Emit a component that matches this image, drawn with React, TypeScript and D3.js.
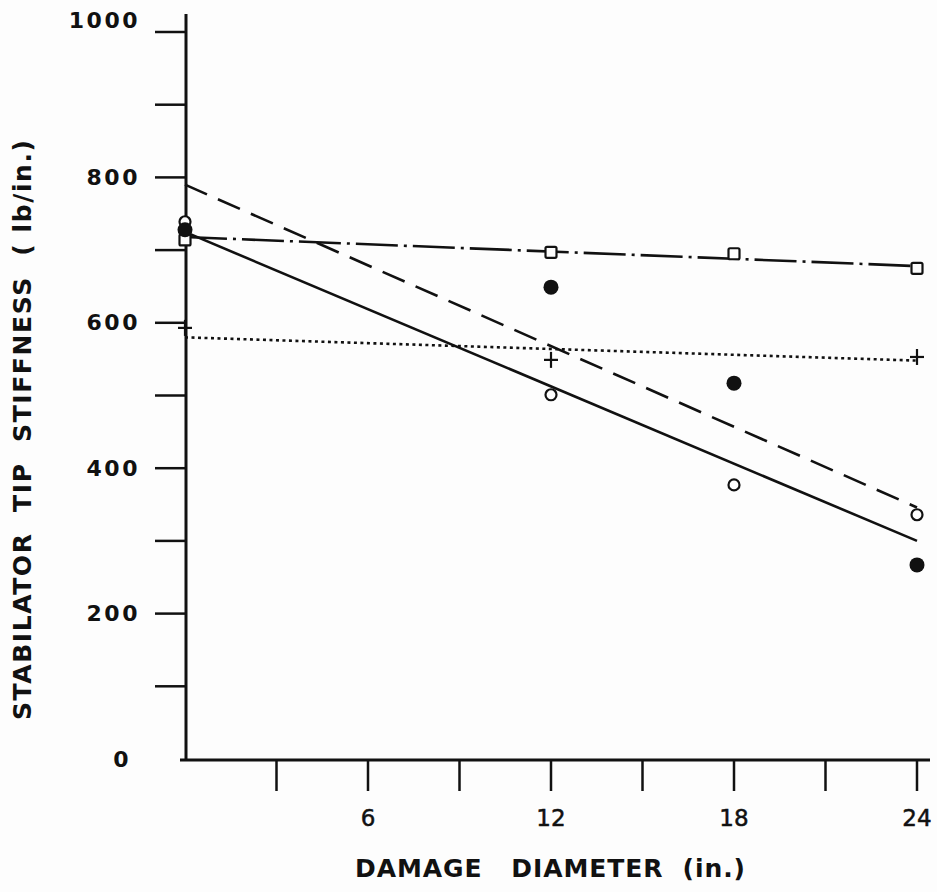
import React from 'react';
import * as d3 from 'd3';

// ---- data ----
const xTickValues = [3, 6, 9, 12, 15, 18, 21, 24];
const xTickLabels = [6, 12, 18, 24];
const yTickValues = [100, 200, 300, 400, 500, 600, 700, 800, 900, 1000];
const yTickLabels = [0, 200, 400, 600, 800, 1000];

const openCircleX = [0, 12, 18, 24];
const openCircleY = [739, 501, 377, 336];
const filledCircleX = [0, 12, 18, 24];
const filledCircleY = [728, 649, 517, 267];
const squareX = [0, 12, 18, 24];
const squareY = [714, 697, 695, 675];
const plusX = [0, 12, 24];
const plusY = [593, 549, 553];

const lineX = [0, 24];
const solidLineY = [725, 300];
const dashedLineY = [790, 346];
const dashDotLineY = [718, 678];
const dottedLineY = [580, 548];

const xTitle = 'DAMAGE   DIAMETER  (in.)';
const yTitle = 'STABILATOR  TIP  STIFFNESS  ( lb/in.)';

const W = 937;
const H = 892;

export default function App() {
  const x = d3.scaleLinear().domain([0, 24]).range([185, 917]);
  const y = d3.scaleLinear().domain([0, 1000]).range([759, 32]);
  const line = d3
    .line<[number, number]>()
    .x((d) => x(d[0]))
    .y((d) => y(d[1]));
  const mk = (ys: number[]) => lineX.map((v, i) => [v, ys[i]] as [number, number]);

  const font = "'DejaVu Sans', 'Liberation Sans', sans-serif";
  const stroke = '#111';
  const bg = '#fdfdfd';

  return (
    <svg
      width={W}
      height={H}
      style={{ position: 'absolute', left: 0, top: 0, background: bg }}
    >
      <rect x={0} y={0} width={W} height={H} fill={bg} />
      {/* axes */}
      <line x1={186} y1={14} x2={186} y2={760} stroke={stroke} strokeWidth={3} />
      <line x1={180} y1={760} x2={930} y2={760} stroke={stroke} strokeWidth={3} />
      {yTickValues.map((v) => (
        <line key={'yt' + v} x1={155} x2={186} y1={y(v)} y2={y(v)} stroke={stroke} strokeWidth={2.5} />
      ))}
      {xTickValues.map((v) => (
        <line key={'xt' + v} x1={x(v)} x2={x(v)} y1={760} y2={791} stroke={stroke} strokeWidth={2.5} />
      ))}
      {yTickLabels.map((v) => (
        <text
          key={'yl' + v}
          x={v === 0 ? 121 : 140}
          y={y(v) + (v === 1000 ? -12 : 0)}
          textAnchor={v === 0 ? 'middle' : 'end'}
          dominantBaseline="central"
          fontFamily={font}
          fontSize={22}
          fontWeight="bold"
          letterSpacing={v === 0 ? 0 : 2.5}
          fill={stroke}
        >
          {v}
        </text>
      ))}
      {xTickLabels.map((v) => (
        <text
          key={'xl' + v}
          x={x(v)}
          y={818}
          textAnchor="middle"
          dominantBaseline="central"
          fontFamily={font}
          fontSize={23}
          fill={stroke}
          stroke={stroke}
          strokeWidth={0.5}
        >
          {v}
        </text>
      ))}
      <text
        x={355}
        y={868}
        textAnchor="start"
        dominantBaseline="central"
        fontFamily={font}
        fontSize={25}
        fontWeight="bold"
        fill={stroke}
        textLength={390}
        lengthAdjust="spacing"
        style={{ whiteSpace: 'pre' }}
      >
        {xTitle}
      </text>
      <text
        transform={`translate(22, 720) rotate(-90)`}
        textAnchor="start"
        dominantBaseline="central"
        fontFamily={font}
        fontSize={25}
        fontWeight="bold"
        fill={stroke}
        textLength={580}
        lengthAdjust="spacing"
        style={{ whiteSpace: 'pre' }}
      >
        {yTitle}
      </text>

      {/* fitted lines */}
      <path d={line(mk(solidLineY)) || ''} fill="none" stroke={stroke} strokeWidth={2.6} />
      <path
        d={line(mk(dashedLineY)) || ''}
        fill="none"
        stroke={stroke}
        strokeWidth={2.6}
        strokeDasharray="24 12"
      />
      <path
        d={line(mk(dashDotLineY)) || ''}
        fill="none"
        stroke={stroke}
        strokeWidth={2.6}
        strokeDasharray="42 6 3 6"
      />
      <path
        d={line(mk(dottedLineY)) || ''}
        fill="none"
        stroke={stroke}
        strokeWidth={2.6}
        strokeDasharray="3 3.5"
      />

      {/* markers */}
      {squareX.map((v, i) => (
        <rect
          key={'sq' + i}
          x={x(v) - 5.5}
          y={y(squareY[i]) - 5.5}
          width={11}
          height={11}
          fill={bg}
          stroke={stroke}
          strokeWidth={2.2}
          rx={1.5}
        />
      ))}
      {openCircleX.map((v, i) => (
        <circle
          key={'oc' + i}
          cx={x(v)}
          cy={y(openCircleY[i])}
          r={5.5}
          fill={bg}
          stroke={stroke}
          strokeWidth={2.2}
        />
      ))}
      {filledCircleX.map((v, i) => (
        <circle key={'fc' + i} cx={x(v)} cy={y(filledCircleY[i])} r={7.5} fill={stroke} />
      ))}
      {plusX.map((v, i) => (
        <g key={'pl' + i} stroke={stroke} strokeWidth={2.2}>
          <line x1={x(v) - 7} x2={x(v) + 7} y1={y(plusY[i])} y2={y(plusY[i])} />
          <line x1={x(v)} x2={x(v)} y1={y(plusY[i]) - 8} y2={y(plusY[i]) + 8} />
        </g>
      ))}
    </svg>
  );
}
